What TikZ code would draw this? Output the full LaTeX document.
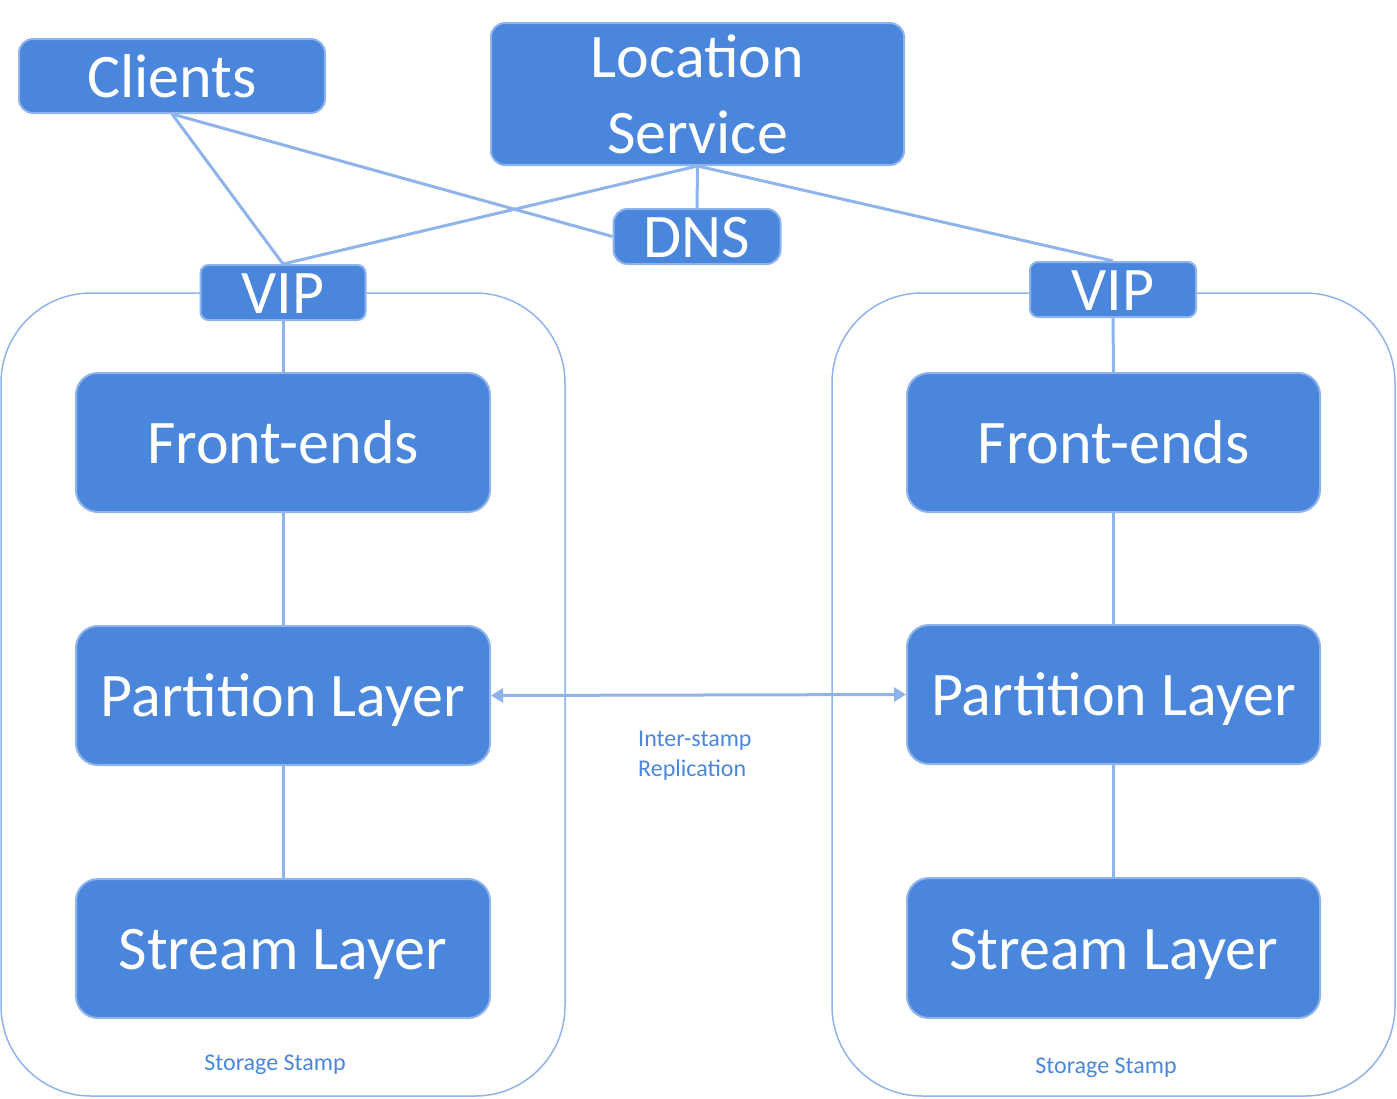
\documentclass[tikz,border=0pt]{standalone}
\usepackage{fontspec}
\setmainfont{Carlito}
\usetikzlibrary{arrows.meta}
\definecolor{boxfill}{HTML}{4A86DC}
\definecolor{boxline}{HTML}{8FB4EC}
\definecolor{lbl}{HTML}{4A86DC}
\tikzset{
  blk/.style={draw=boxline, line width=2pt, fill=boxfill, rounded corners=14pt, text=white, inner sep=0pt, font=\fontsize{62}{76}\selectfont, align=center, text height=42pt, text depth=0pt},
  conn/.style={draw=boxline, line width=3pt},
  stampbox/.style={draw=boxline, line width=1.5pt, rounded corners=90pt},
  small/.style={text=lbl, font=\fontsize{24}{30}\selectfont, inner sep=0pt}
}
\begin{document}
\begin{tikzpicture}[x=1pt,y=-1pt]
\useasboundingbox (0,0) rectangle (1397,1098);
% stamps
\draw[stampbox] (1,293) rectangle (565,1096);
\draw[stampbox] (832,293) rectangle (1395,1096);
% nodes
\node[blk, minimum width=306pt, minimum height=74pt] (clients) at (172,76) {Clients};
\node[blk, minimum width=413pt, minimum height=142pt, text height=, text depth=0pt] (loc) at (697.5,94) {Location\\Service};
\node[blk, minimum width=167pt, minimum height=55pt] (dns) at (697,236.5) {DNS};
\node[blk, minimum width=165pt, minimum height=55pt, rounded corners=8pt] (vipl) at (283,292.5) {VIP};
\node[blk, minimum width=166pt, minimum height=55pt, rounded corners=8pt] (vipr) at (1113,289.5) {VIP};
\node[blk, minimum width=414pt, minimum height=139pt, rounded corners=22pt] (fel) at (283,442.5) {Front-ends};
\node[blk, minimum width=414pt, minimum height=139pt, rounded corners=22pt] (pll) at (283,695.5) {Partition Layer};
\node[blk, minimum width=414pt, minimum height=139pt, rounded corners=22pt] (sll) at (283,948.5) {Stream Layer};
\node[blk, minimum width=413pt, minimum height=139pt, rounded corners=22pt] (fer) at (1113.5,442.5) {Front-ends};
\node[blk, minimum width=413pt, minimum height=139pt, rounded corners=22pt] (plr) at (1113.5,694.5) {Partition Layer};
\node[blk, minimum width=413pt, minimum height=140pt, rounded corners=22pt] (slr) at (1113.5,948) {Stream Layer};
% connectors
\draw[conn] (clients.south) -- (vipl.north);
\draw[conn] (clients.south) -- (dns.west);
\draw[conn] (loc.south) -- (vipl.north);
\draw[conn] (loc.south) -- (dns.north);
\draw[conn] (loc.south) -- (vipr.north);
\draw[conn] (vipl.south) -- (fel.north);
\draw[conn] (fel.south) -- (pll.north);
\draw[conn] (pll.south) -- (sll.north);
\draw[conn] (vipr.south) -- (fer.north);
\draw[conn] (fer.south) -- (plr.north);
\draw[conn] (plr.south) -- (slr.north);
\draw[conn, {Triangle[length=12pt,width=14pt]}-{Triangle[length=12pt,width=14pt]}] (pll.east) -- (plr.west);
% labels
\node[small, anchor=north west, align=left] (rep) at (638,731) {Inter-stamp\\Replication};
\node[small] (stl) at (275,1065) {Storage Stamp};
\node[small] (str) at (1106,1068) {Storage Stamp};
\end{tikzpicture}
\end{document}
